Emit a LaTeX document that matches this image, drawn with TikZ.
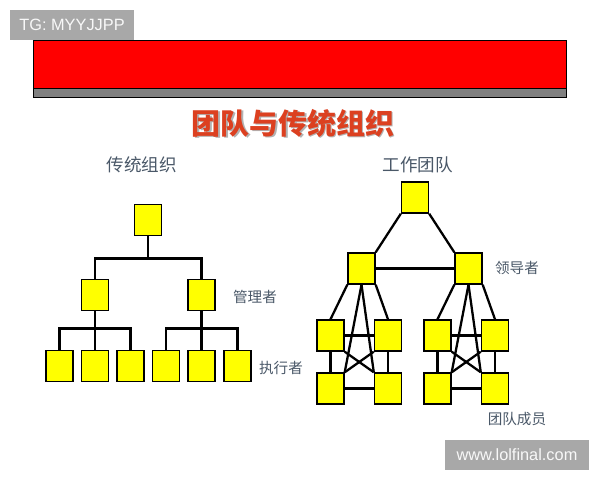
\documentclass[tikz,border=0pt]{standalone}
\usepackage{fontspec}
\setmainfont{Liberation Sans}
\newfontfamily\cjk{Noto Sans CJK SC}
\definecolor{boxyellow}{HTML}{FFFF00}
\definecolor{labelgray}{HTML}{4A5868}
\definecolor{titlered}{HTML}{DC4020}
\definecolor{markgray}{HTML}{A8A8A8}
\tikzset{
    unit/.style={draw=black, fill=boxyellow, line width=0.8pt, minimum width=0.54cm, minimum height=0.62cm, inner sep=0pt},
    link/.style={black, line width=1.3pt},
    caption/.style={font=\cjk\fontsize{10}{12}\selectfont, text=labelgray, inner sep=0pt},
    role/.style={font=\cjk\fontsize{8.3}{10}\selectfont, text=labelgray, inner sep=0pt},
    badge/.style={fill=markgray, text=white!92!markgray, font=\fontsize{9.3}{11}\selectfont, inner sep=0pt}
}
\begin{document}
\begin{tikzpicture}[x=0.02cm, y=-0.02cm]
    \useasboundingbox (0,0) rectangle (600,480);

    % banner
    \draw[black, fill=red, line width=0.5pt] (33,40) rectangle (566,88);
    \draw[black, fill=gray, line width=0.5pt] (33,88) rectangle (566,97);
    \node[badge, minimum width=2.5cm, minimum height=0.6cm] (tg) at (72,25) {TG: MYYJJPP};

    % title
    \node[font=\cjk\bfseries\fontsize{16.5}{18}\selectfont, text=gray!60, inner sep=0pt] (titleshadow) at (294.5,124.5) {团队与传统组织};
    \node[font=\cjk\bfseries\fontsize{16.5}{18}\selectfont, text=titlered, inner sep=0pt] (title) at (293,123) {团队与传统组织};

    \node[caption] (oldcap) at (142,165) {传统组织};
    \node[caption] (teamcap) at (418,165) {工作团队};

    % traditional organisation
    \node[unit] (boss) at (148,220) {};
    \node[unit] (m1) at (95,295) {};
    \node[unit] (m2) at (201.5,295) {};
    \foreach \n/\x in {1/59.5, 2/95, 3/130.5, 4/166, 5/201.5, 6/237.5}
        \node[unit] (w\n) at (\x,366) {};

    \coordinate (bus0) at (148,258.5);
    \coordinate (bus1) at (95,328.5);
    \coordinate (bus2) at (201.5,328.5);
    \draw[link] (boss) -- (bus0);
    \draw[link] (bus0) -| (m1);
    \draw[link] (bus0) -| (m2);
    \draw[link] (m1) -- (bus1);
    \draw[link] (m2) -- (bus2);
    \foreach \n in {1,2,3}
        \draw[link] (bus1) -| (w\n);
    \foreach \n in {4,5,6}
        \draw[link] (bus2) -| (w\n);

    \node[role] (mgr) at (255,297) {管理者};
    \node[role] (exe) at (281,368) {执行者};

    % work team
    \node[unit] (head) at (415,197.5) {};
    \node[unit] (l1) at (361.5,268.5) {};
    \node[unit] (l2) at (468.5,268.5) {};
    \node[unit] (a1) at (330.5,335.5) {};
    \node[unit] (a2) at (388,335.5) {};
    \node[unit] (a3) at (330.5,388.5) {};
    \node[unit] (a4) at (388,388.5) {};
    \node[unit] (c1) at (437.5,335.5) {};
    \node[unit] (c2) at (495,335.5) {};
    \node[unit] (c3) at (437.5,388.5) {};
    \node[unit] (c4) at (495,388.5) {};

    \draw[link] (head.south west) -- (l1.north east);
    \draw[link] (head.south east) -- (l2.north west);
    \draw[link] (l1) -- (l2);

    % each team: leader to members, members to one another
    \foreach \l/\p/\q/\r/\s in {l1/a1/a2/a3/a4, l2/c1/c2/c3/c4} {
        \draw[link] (\l.south west) -- (\p.north);
        \draw[link] (\l.south east) -- (\q.north);
        \draw[link] (\l.south) -- (\r.north east);
        \draw[link] (\l.south) -- (\s.north west);
        \draw[link] (\p.south east) -- (\s.north west);
        \draw[link] (\q.south west) -- (\r.north east);
        \draw[link] (\p) -- (\q);
        \draw[link] (\r) -- (\s);
        \draw[link] (\p) -- (\r);
        \draw[link] (\q) -- (\s);
    }

    \node[role] (lead) at (517,268) {领导者};
    \node[role] (member) at (517,419) {团队成员};

    \node[badge, minimum width=2.9cm, minimum height=0.62cm] (site) at (517,455) {www.lolfinal.com};
\end{tikzpicture}
\end{document}
